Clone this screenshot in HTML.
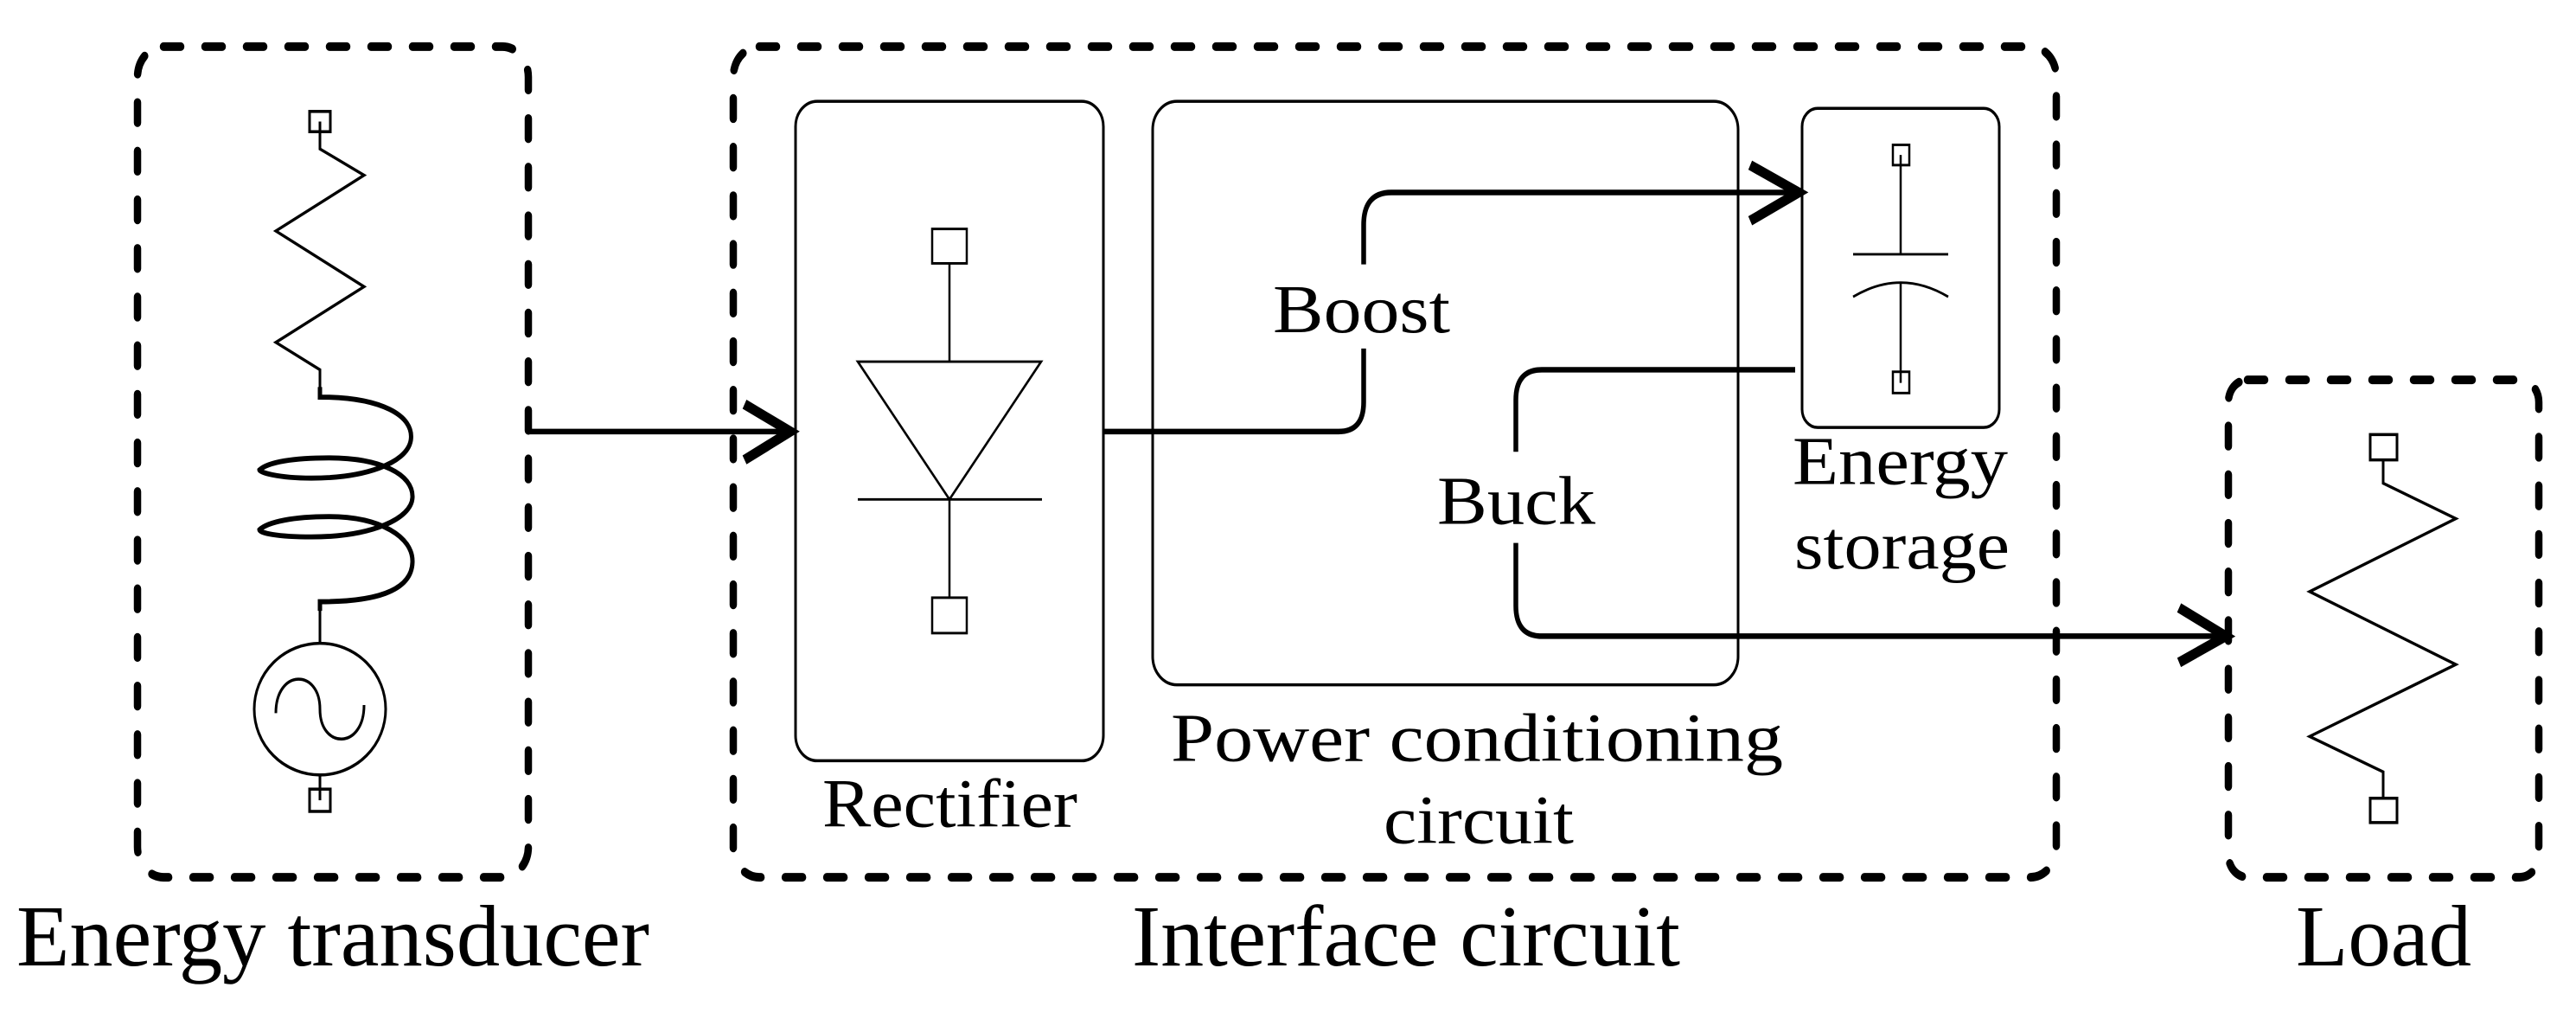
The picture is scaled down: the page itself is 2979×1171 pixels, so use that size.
<!DOCTYPE html>
<html><head><meta charset="utf-8"><style>html,body{margin:0;padding:0;background:#fff}svg{display:block}</style></head>
<body>
<svg width="2979" height="1171" viewBox="0 0 2979 1171" xmlns="http://www.w3.org/2000/svg" font-family="'Liberation Serif', serif" fill="none" stroke="#000">
<g transform="scale(1,1.171)">
<!-- dashed boxes -->
<g stroke-width="8.5" stroke-dasharray="20 28" stroke-linecap="round">
<rect x="159" y="46" width="452" height="820" rx="30"/>
<rect x="848" y="46" width="1530" height="820" rx="30"/>
<rect x="2577" y="375" width="359" height="491" rx="22"/>
</g>
<!-- solid boxes -->
<g stroke-width="3">
<rect x="920" y="100" width="356" height="651" rx="25"/>
<rect x="1333" y="100" width="677" height="576" rx="28"/>
<rect x="2084" y="107" width="228" height="315" rx="18"/>
</g>
<!-- transducer -->
<g stroke-width="3">
<rect x="358" y="110" width="24" height="20"/>
<polyline points="370,120 370,147 421,173 319,228 421,283 319,338 370,365 370,392"/>
<ellipse cx="370" cy="700" rx="76" ry="65"/>
<path d="M319,704 C319,660 370,660 370,700 C370,740 421,740 421,696"/>
<line x1="370" y1="595" x2="370" y2="635"/>
<line x1="370" y1="765" x2="370" y2="790"/>
<rect x="358" y="779" width="24" height="22"/>
</g>
<path stroke-width="5" d="M370,382 L370,392 C440,392 480,410 475,435 C470,458 420,472 360,472 C320,472 300,466 300,464 C310,456 340,452 380,452 C440,452 478,468 477,491 C476,512 430,530 360,530 C320,530 300,526 300,523 C310,515 340,510 380,510 C440,510 478,530 477,555 C476,585 430,594 370,594 L370,603"/>
<!-- arrow to rectifier -->
<line stroke-width="5.5" x1="611" y1="426" x2="918" y2="426"/>
<polyline stroke-width="10" points="861,399 914,426 861,454"/>
<!-- diode -->
<g stroke-width="2.5">
<rect x="1078" y="226" width="40" height="34"/>
<line x1="1098" y1="260" x2="1098" y2="357"/>
<polygon points="992,357 1204,357 1098,493"/>
<line x1="992" y1="493" x2="1205" y2="493"/>
<line x1="1098" y1="493" x2="1098" y2="590"/>
<rect x="1078" y="590" width="40" height="35"/>
</g>
<!-- boost / buck paths -->
<g stroke-width="5.5">
<path d="M1276,426 L1548,426 Q1577,426 1577,397 L1577,344"/>
<path d="M1577,261 L1577,222 Q1577,190 1609,190 L2080,190"/>
<path d="M2076,365 L1783,365 Q1753,365 1753,395 L1753,446"/>
<path d="M1753,536 L1753,598 Q1753,628 1783,628 L2574,628"/>
</g>
<polyline stroke-width="10" points="2024,163 2080,190 2024,218"/>
<polyline stroke-width="10" points="2520,600 2574,628 2520,654"/>
<!-- capacitor -->
<g stroke-width="2.5">
<rect x="2189" y="143" width="19" height="20"/>
<line x1="2198" y1="153" x2="2198" y2="251"/>
<line x1="2143" y1="251" x2="2253" y2="251"/>
<path d="M2143,293 Q2198,265 2253,293"/>
<line x1="2198" y1="279" x2="2198" y2="378"/>
<rect x="2189" y="367" width="19" height="21"/>
</g>
<!-- load resistor -->
<g stroke-width="3">
<rect x="2741" y="429" width="31" height="25"/>
<polyline points="2756,454 2756,477 2840,512 2671,584 2840,656 2671,727 2756,762 2756,788"/>
<rect x="2741" y="788" width="31" height="24"/>
</g>
<!-- text -->
<g fill="#000" stroke="none">
<text x="19" y="953" font-size="86" textLength="732" lengthAdjust="spacingAndGlyphs">Energy transducer</text>
<text x="1309" y="953" font-size="86" textLength="634" lengthAdjust="spacingAndGlyphs">Interface circuit</text>
<text x="2655" y="953" font-size="86" textLength="203" lengthAdjust="spacingAndGlyphs">Load</text>
<text x="951" y="816" font-size="68" textLength="295" lengthAdjust="spacingAndGlyphs">Rectifier</text>
<text x="1354" y="751" font-size="68" textLength="708" lengthAdjust="spacingAndGlyphs">Power  conditioning</text>
<text x="1600" y="832" font-size="68" textLength="220" lengthAdjust="spacingAndGlyphs">circuit</text>
<text x="1472" y="328" font-size="68" textLength="205" lengthAdjust="spacingAndGlyphs">Boost</text>
<text x="1662" y="517" font-size="68" textLength="183" lengthAdjust="spacingAndGlyphs">Buck</text>
<text x="2073" y="478" font-size="68" textLength="249" lengthAdjust="spacingAndGlyphs">Energy</text>
<text x="2075" y="561" font-size="68" textLength="249" lengthAdjust="spacingAndGlyphs">storage</text>
</g>
</g>
</svg>
</body></html>
